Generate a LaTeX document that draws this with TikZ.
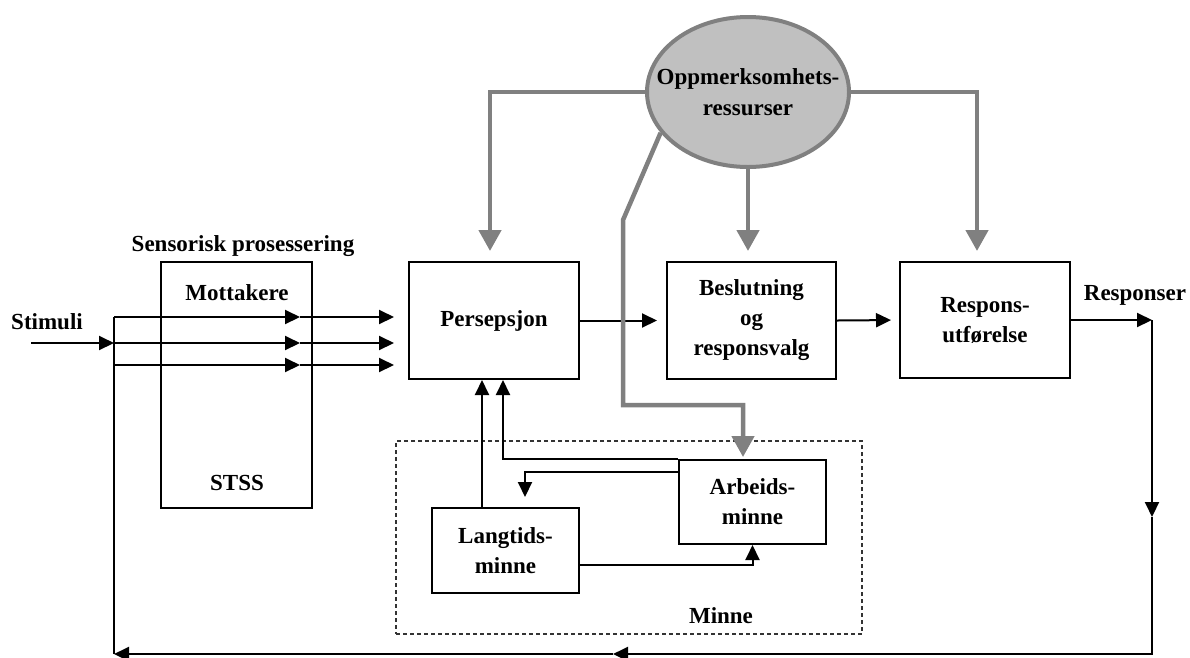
\documentclass[tikz,border=0pt]{standalone}
\usepackage{fontspec}
\setmainfont{Liberation Serif}
\usepackage{tikz}
\usetikzlibrary{arrows.meta,shapes.geometric}
\definecolor{attgray}{RGB}{128,128,128}
\definecolor{attfill}{RGB}{192,192,192}
\tikzstyle{block} = [rectangle, draw, line width=2pt, align=center]
\tikzstyle{memory} = [rectangle, draw=black!80, line width=1.3pt,
    dash pattern=on 4pt off 3pt, minimum width=466pt, minimum height=193pt]
\tikzstyle{attn} = [ellipse, draw=attgray, fill=attfill, line width=4pt,
    minimum width=202pt, minimum height=150pt]
\tikzstyle{tag} = [anchor=base, inner sep=0pt]
\tikzstyle{line} = [draw, line width=2pt, -{Triangle[length=15pt,width=14pt]}]
\tikzstyle{attline} = [draw, line width=4.5pt, color=attgray, -{Triangle[length=21pt,width=22pt]}]

\begin{document}
\begin{tikzpicture}[x=1pt, y=-1pt, font=\fontsize{23}{30}\selectfont\bfseries]
    \useasboundingbox (0,0) rectangle (1190,657);
    % Place nodes
    \node [block, minimum width=151pt, minimum height=246pt] (sens) at (236.5,385) {};
    \node [tag] (sensTitle) at (243,251.7) {Sensorisk prosessering};
    \node [tag] (mott) at (237,300.7) {Mottakere};
    \node [tag] (stss) at (237,490) {STSS};
    \node [tag] (stim) at (47,329.3) {Stimuli};
    \node [block, minimum width=170pt, minimum height=117pt] (perc) at (494,320.5) {Persepsjon};
    \node [block, minimum width=169pt, minimum height=117pt] (dec) at (751.5,320.5) {Beslutning\\og\\responsvalg};
    \node [block, minimum width=170pt, minimum height=116pt] (resp) at (985,320) {Respons-\\utførelse};
    \node [tag] (respLabel) at (1135,300) {Responser};
    \node [memory] (mem) at (629,537.5) {};
    \node [tag] (memLabel) at (721,623) {Minne};
    \node [block, minimum width=147pt, minimum height=85pt] (lt) at (505.5,550.5) {Langtids-\\minne};
    \node [block, minimum width=147pt, minimum height=84pt] (wm) at (752.5,502) {Arbeids-\\minne};
    \node [attn] (attn) at (748,92) {};
    \node [align=center, font=\fontsize{23}{31}\selectfont\bfseries] (attnText) at (attn.center) {Oppmerksomhets-\\ressurser};

    % Draw edges
    \coordinate (stimIn) at (31,343);
    \coordinate (split) at (114,343);
    \path [line] (stimIn) -- (split);
    \foreach \y [count=\i] in {317,343,365} {
      \coordinate (fan\i) at (114,\y);
      \coordinate (rcv\i) at (300,\y);
      \path [line] (fan\i) -- (rcv\i);
      \path [line, shorten >=14pt] (rcv\i) -- (rcv\i -| perc.west);
    }
    \path [line, shorten >=9pt] (perc.east) -- (dec.west);
    \path [line, shorten >=8pt] (dec.east) -- (resp.west);

    % feedback loop
    \coordinate (out) at (1152,320);
    \coordinate (fbDown) at (1152,517);
    \coordinate (fbCorner) at (1152,654);
    \coordinate (fbMid) at (613,654);
    \coordinate (fbLeft) at (114,654);
    \path [line] (resp.east) -- (out);
    \path [line] (out) -- (fbDown);
    \path [line] (fbDown) -- (fbCorner) -- (fbMid);
    \path [line] (fbMid) -- (fbLeft);
    \path [draw, line width=2pt] (fbLeft) -- (fan1);

    % memory
    \path [line] ([xshift=-23.5pt]lt.north) -- ([xshift=-23.5pt]lt.north |- perc.south);
    \path [line] (wm.north west) -| ([xshift=9pt]perc.south);
    \path [line, shorten >=10pt] ([yshift=30pt]wm.west) -| ([xshift=19.5pt]lt.north);
    \path [line] ([yshift=-14.5pt]lt.east) -| (wm.south);

    % attention
    \coordinate (wmBend) at (623,220);
    \coordinate (wmLow) at (623,405);
    \path [attline, shorten >=10pt] (attn.west) -| ([xshift=-4pt]perc.north);
    \path [attline, shorten >=10pt] (attn.south) -- (attn.south |- dec.north);
    \path [attline, shorten >=10pt] (attn.east) -| ([xshift=-8pt]resp.north);
    \path [attline, shorten >=2pt] (attn.205) -- (wmBend) -- (wmLow) -| ([xshift=-9.5pt]wm.north);
\end{tikzpicture}
\end{document}
